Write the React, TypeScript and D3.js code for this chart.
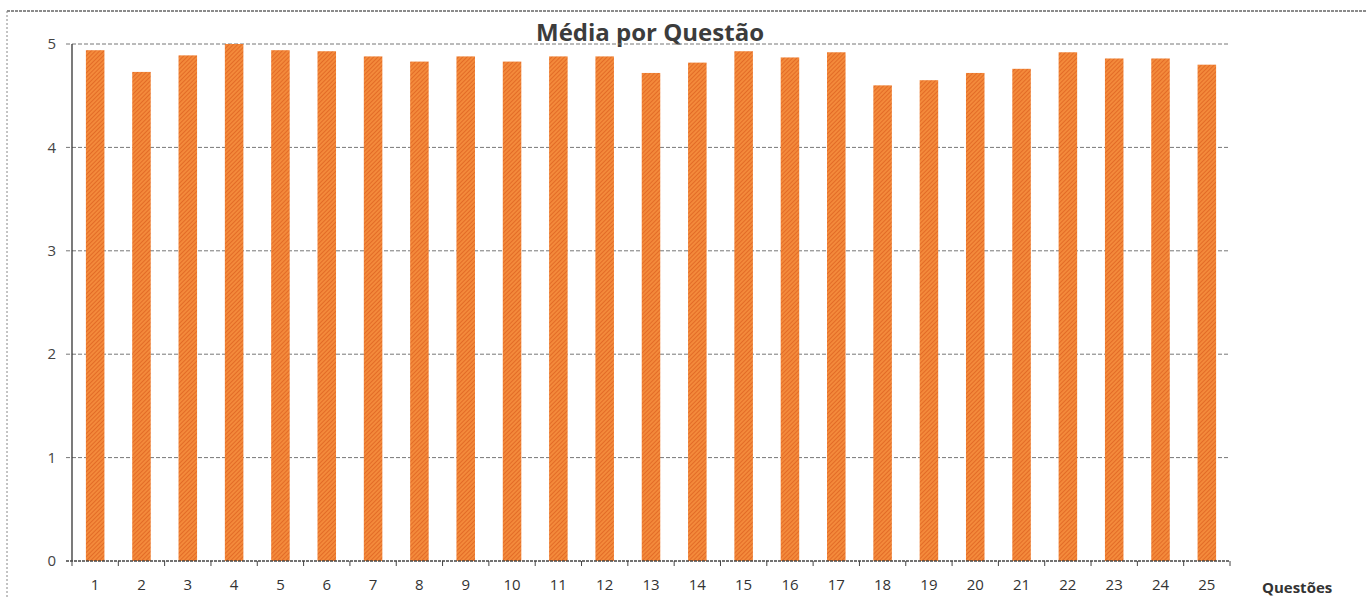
import React from 'react';
import * as d3 from 'd3';

// Questions 1..25 and mean score per question
const questoes = d3.range(1, 26).map(String);
const medias = [
  4.94, 4.73, 4.89, 5.0, 4.94, 4.93, 4.88, 4.83, 4.88, 4.83,
  4.88, 4.88, 4.72, 4.82, 4.93, 4.87, 4.92, 4.6, 4.65, 4.72,
  4.76, 4.92, 4.86, 4.86, 4.8,
];
const yTicks = [0, 1, 2, 3, 4, 5];
const titulo = 'Média por Questão';
const eixoX = 'Questões';

const W = 1366;
const H = 599;

export default function App() {
  // plot area
  const margin = { top: 44, right: 136, bottom: 38, left: 72 };
  const width = W - margin.left - margin.right;
  const height = H - margin.top - margin.bottom;

  const x = d3.scaleBand<string>()
    .domain(questoes)
    .range([0, width])
    .paddingInner(0.6)
    .paddingOuter(0.3);

  // band boundaries for ticks
  const step = width / questoes.length;

  const y = d3.scaleLinear().domain([0, 5]).range([height, 0]);

  const font = '"Open Sans", "DejaVu Sans", sans-serif';

  return (
    <svg
      width={W}
      height={H}
      style={{ position: 'absolute', left: 0, top: 0, background: '#fff' }}
    >
      <defs>
        <pattern
          id="hatch"
          width="3"
          height="3"
          patternUnits="userSpaceOnUse"
          patternTransform="rotate(45)"
        >
          <rect width="3" height="3" fill="#f38a3b" />
          <line x1="0" y1="0" x2="0" y2="3" stroke="#dd5d1e" strokeWidth="1.4" />
        </pattern>
      </defs>

      {/* outer chart frame (scanned look) */}
      <line x1={7} y1={11} x2={W} y2={11} stroke="#666" strokeWidth={1.5} strokeDasharray="3,1" />
      <line x1={7} y1={11} x2={7} y2={H} stroke="#888" strokeWidth={1} strokeDasharray="2,2" />

      <text
        x={650}
        y={41}
        textAnchor="middle"
        fontFamily={font}
        fontWeight="bold"
        fontSize={24}
        fill="#3c3c3c"
      >
        {titulo}
      </text>

      <g transform={`translate(${margin.left},${margin.top})`}>
        {/* gridlines */}
        {yTicks.filter(t => t > 0).map(t => (
          <line
            key={'g' + t}
            x1={-6}
            x2={width}
            y1={y(t)}
            y2={y(t)}
            stroke="#777"
            strokeWidth={1}
            strokeDasharray="4,2"
          />
        ))}

        {/* y labels */}
        {yTicks.map(t => (
          <text
            key={'y' + t}
            x={-16}
            y={y(t)}
            dy="0.35em"
            textAnchor="end"
            fontFamily={font}
            fontSize={15}
            fill="#444"
          >
            {t}
          </text>
        ))}

        {/* bars */}
        {medias.map((v, i) => (
          <rect
            key={'b' + i}
            x={x(questoes[i])}
            y={y(v)}
            width={x.bandwidth()}
            height={height - y(v)}
            fill="url(#hatch)"
          />
        ))}

        {/* axes */}
        <line x1={0} x2={0} y1={0} y2={height} stroke="#333" strokeWidth={1.3} />
        <line x1={-6} x2={width} y1={height} y2={height} stroke="#444" strokeWidth={1.3} strokeDasharray="3,1" />

        {d3.range(0, questoes.length + 1).map(i => (
          <line
            key={'t' + i}
            x1={i * step}
            x2={i * step}
            y1={height}
            y2={height + 5}
            stroke="#444"
            strokeWidth={1}
          />
        ))}

        {questoes.map(q => (
          <text
            key={'x' + q}
            x={(x(q) as number) + x.bandwidth() / 2}
            y={height + 29}
            textAnchor="middle"
            fontFamily={font}
            fontSize={15}
            fill="#333"
          >
            {q}
          </text>
        ))}
      </g>

      <text
        x={1262}
        y={593}
        fontFamily={font}
        fontWeight="bold"
        fontSize={15}
        fill="#333"
      >
        {eixoX}
      </text>
    </svg>
  );
}
